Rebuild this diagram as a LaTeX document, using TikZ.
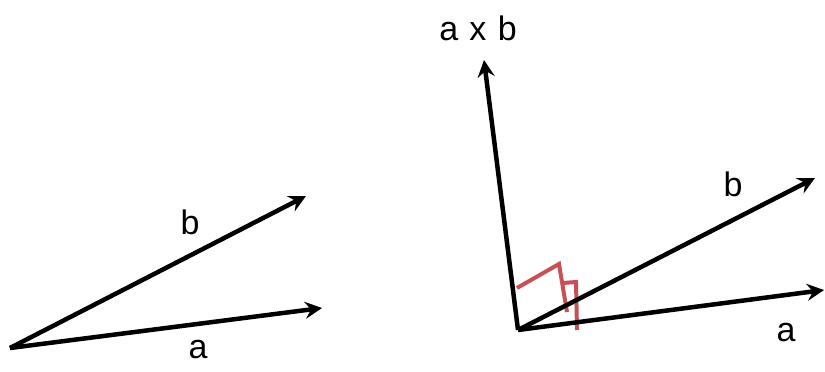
\documentclass[tikz,border=0pt]{standalone}
\usepackage{fontspec}
\setmainfont{Liberation Sans}
\usetikzlibrary{arrows.meta}
\begin{document}
\begin{tikzpicture}[x=1pt,y=-1pt,
  vec/.style={line width=4.5pt,-{Stealth[length=17pt,width=17pt,inset=6pt]}},
  lbl/.style={font=\fontsize{34}{40}\selectfont,inner sep=0pt},
  marker/.style={draw={rgb,255:red,200;green,80;blue,85},line width=4pt,line join=miter}]
\useasboundingbox (0,0) rectangle (825,372);
% left
\coordinate (O1) at (10,348);
\coordinate (A1) at (322,308);
\coordinate (B1) at (306,196);
\draw[vec] (O1) -- (A1);
\draw[vec] (O1) -- (B1);
\node[lbl] (lb1) at (190,222) {b};
\node[lbl] (la1) at (198,350) {a};
% right
\coordinate (O2) at (518,330);
\coordinate (A2) at (824,290);
\coordinate (B2) at (815,178);
\coordinate (C2) at (484,60);
\draw[marker] (517,288) -- (559,264) -- (567,312);
\draw[marker] (563,283) -- (576,282) -- (577,330);
\draw[vec] (O2) -- (A2);
\draw[vec] (O2) -- (B2);
\draw[vec] (O2) -- (C2);
\node[lbl] (lc2) at (478,28) {a\,\,x\,\,b};
\node[lbl] (lb2) at (733,184) {b};
\node[lbl] (la2) at (786,333) {a};
\end{tikzpicture}
\end{document}
